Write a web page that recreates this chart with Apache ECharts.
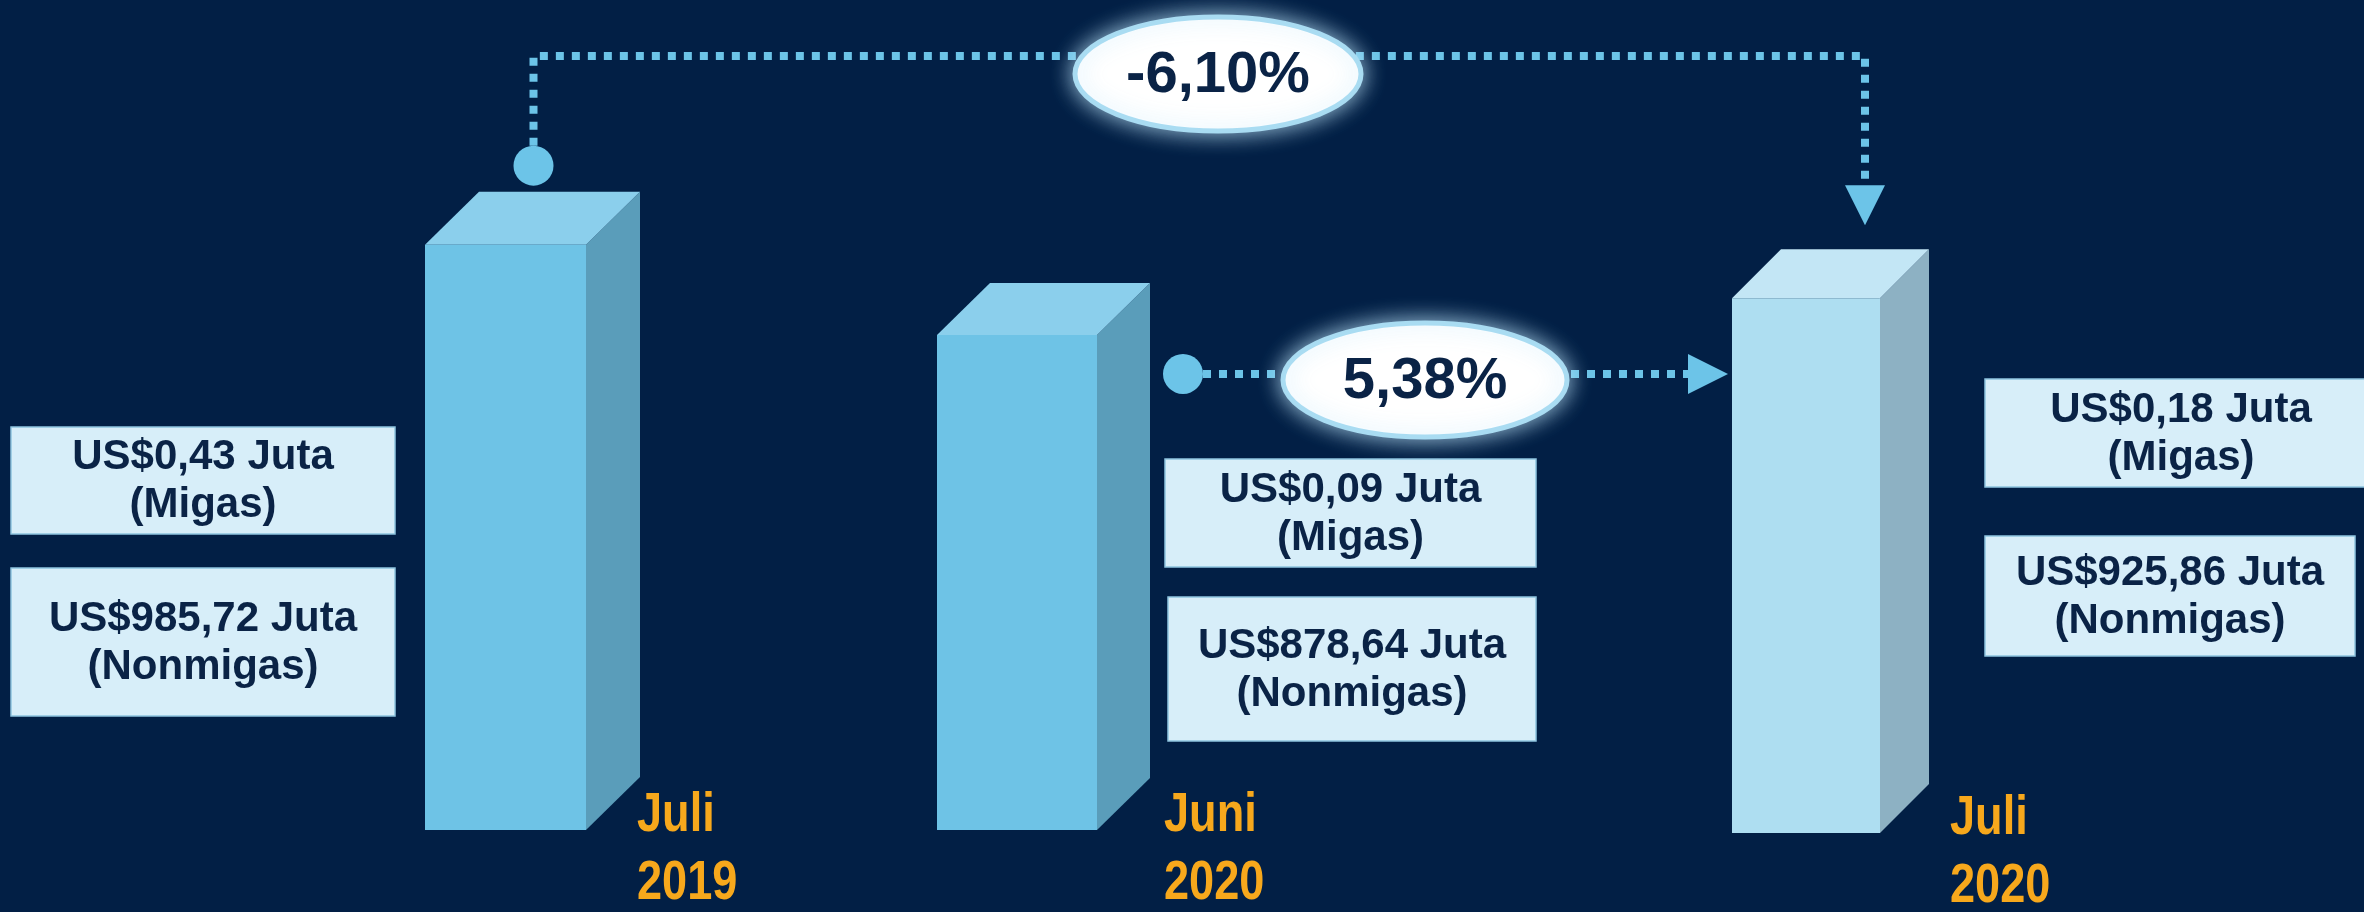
<!DOCTYPE html>
<html>
<head>
<meta charset="utf-8">
<script src="https://cdn.jsdelivr.net/npm/echarts@6/dist/echarts.min.js"></script>
<style>
html,body{margin:0;padding:0;background:#021F45;}
#c{width:2364px;height:912px;}
</style>
</head>
<body>
<div id="c"></div>
<script>
// ---------------- DATA ----------------
const categories = ['Juli\n2019', 'Juni\n2020', 'Juli\n2020'];
const migas = [0.43, 0.09, 0.18];          // US$ Juta
const nonmigas = [985.72, 878.64, 925.86]; // US$ Juta
const changes = [-6.10, 5.38];             // % : Juli 2020 vs Juli 2019, Juli 2020 vs Juni 2020

// ---------------- LAYOUT / STYLE ----------------
const BG = '#021F45';
const FONT = "'Liberation Sans', Arial, sans-serif";
const NAVY = '#0A2346';
const ORANGE = '#F7A81C';
const LINK = '#6CC4E8';
const Y_MIN = 290, Y_MAX = 1000;
const gridLayout = [
  {left: 425, width: 161, top: 233, bottom: 82},
  {left: 937, width: 160, top: 233, bottom: 82},
  {left: 1732, width: 148, top: 236, bottom: 79}
];
const depth = [[54, 53], [53, 52], [49, 49]];
const barColors = [
  {front: '#6EC3E6', top: '#8BCFEC', side: '#5A9DBA'},
  {front: '#6EC3E6', top: '#8BCFEC', side: '#5A9DBA'},
  {front: '#AEDEF1', top: '#C3E6F5', side: '#8DB1C3'}
];
const labelOffset = [-3, 14, 21];
const boxLayout = [
  {m: [11, 427, 384, 107], n: [11, 568, 384, 148]},
  {m: [1165, 459, 371, 108], n: [1168, 597, 368, 144]},
  {m: [1985, 379, 392, 108], n: [1985, 536, 370, 120]}
];
const ellipseLayout = [
  {cx: 1218, cy: 74, rx: 143, ry: 57},
  {cx: 1425, cy: 380, rx: 142, ry: 57}
];
const topLineY = 56;

const totals = migas.map((v, i) => v + nonmigas[i]);
const fmt = v => v.toFixed(2).replace('.', ',');

const chart = echarts.init(document.getElementById('c'), null, {renderer: 'canvas'});

function renderBar(params, api) {
  const i = params.seriesIndex;
  const topP = api.coord([api.value(0), api.value(1)]);
  const baseP = api.coord([api.value(0), Y_MIN]);
  const w = api.size([1, 0])[0];
  const x0 = topP[0] - w / 2, x1 = topP[0] + w / 2;
  const yt = topP[1], yb = baseP[1];
  const dx = depth[i][0], dy = depth[i][1];
  const c = barColors[i];
  const lx = x1 + dx + labelOffset[i];
  return {
    type: 'group',
    children: [
      {type: 'polygon', shape: {points: [[x1, yt], [x1 + dx, yt - dy], [x1 + dx, yb - dy], [x1, yb]]}, style: {fill: c.side}},
      {type: 'polygon', shape: {points: [[x0, yt], [x0 + dx, yt - dy], [x1 + dx, yt - dy], [x1, yt]]}, style: {fill: c.top}},
      {type: 'rect', shape: {x: x0, y: yt, width: w, height: yb - yt}, style: {fill: c.front}},
      {type: 'text', x: lx, y: yb - 48, scaleX: 0.82,
        style: {text: categories[i], x: 0, y: 0, fill: ORANGE, fontSize: 55, fontWeight: 'bold',
          fontFamily: FONT, lineHeight: 68, align: 'left', verticalAlign: 'top'}}
    ]
  };
}

const option = {
  backgroundColor: BG,
  animation: false,
  grid: gridLayout.map(g => Object.assign({containLabel: false}, g)),
  xAxis: gridLayout.map((g, i) => ({type: 'category', gridIndex: i, data: [categories[i]], show: false, boundaryGap: true})),
  yAxis: gridLayout.map((g, i) => ({type: 'value', gridIndex: i, min: Y_MIN, max: Y_MAX, show: false})),
  series: categories.map((c, i) => ({
    type: 'custom', xAxisIndex: i, yAxisIndex: i, clip: false,
    renderItem: renderBar, data: [[c, totals[i]]], z: 2
  }))
};
chart.setOption(option);

// ---------------- ANNOTATIONS ----------------
const P = categories.map((c, i) => chart.convertToPixel({gridIndex: i}, [c, totals[i]]));
const G = [];
const dotted = {stroke: LINK, lineWidth: 8, lineDash: [8, 8], lineCap: 'butt', fill: null};

// connector 1 : Juli 2019 -> Juli 2020
const c1x = P[0][0] + depth[0][0] / 2 + 1;
const c1y = P[0][1] - depth[0][1] - 26;
const a1x = P[2][0] + gridLayout[2].width / 2 - 15;
const a1tip = P[2][1] - depth[2][1] - 24;
G.push({type: 'polyline', z: 10, shape: {points: [[c1x, c1y - 20], [c1x, topLineY], [a1x, topLineY], [a1x, a1tip - 40]]}, style: dotted});
G.push({type: 'circle', z: 11, shape: {cx: c1x, cy: c1y, r: 20}, style: {fill: LINK}});
G.push({type: 'polygon', z: 11, shape: {points: [[a1x - 20, a1tip - 40], [a1x + 20, a1tip - 40], [a1x, a1tip]]}, style: {fill: LINK}});

// connector 2 : Juni 2020 -> Juli 2020
const c2x = P[1][0] + gridLayout[1].width / 2 + depth[1][0] + 33;
const c2y = P[1][1] + 39;
const a2tip = P[2][0] - gridLayout[2].width / 2 - 4;
G.push({type: 'polyline', z: 10, shape: {points: [[c2x + 20, c2y], [a2tip - 39, c2y]]}, style: dotted});
G.push({type: 'circle', z: 11, shape: {cx: c2x, cy: c2y, r: 20}, style: {fill: LINK}});
G.push({type: 'polygon', z: 11, shape: {points: [[a2tip - 40, c2y - 20], [a2tip - 40, c2y + 20], [a2tip, c2y]]}, style: {fill: LINK}});

// percentage ellipses
changes.forEach((v, k) => {
  const e = ellipseLayout[k];
  G.push({type: 'ellipse', z: 12, shape: {cx: e.cx, cy: e.cy, rx: e.rx, ry: e.ry},
    style: {fill: '#FFFFFF', stroke: '#A9DCF2', lineWidth: 5, shadowBlur: 22, shadowColor: 'rgba(190,230,250,0.85)'}});
  G.push({type: 'text', z: 13, x: e.cx, y: e.cy + 2,
    style: {text: fmt(v) + '%', fill: NAVY, fontSize: 58, fontWeight: 'bold', fontFamily: FONT, align: 'center', verticalAlign: 'middle'}});
});

// value boxes
categories.forEach((c, i) => {
  const b = boxLayout[i];
  [['m', 'US$' + fmt(migas[i]) + ' Juta\n(Migas)'], ['n', 'US$' + fmt(nonmigas[i]) + ' Juta\n(Nonmigas)']].forEach(([key, txt]) => {
    const r = b[key];
    G.push({type: 'rect', z: 5, shape: {x: r[0], y: r[1], width: r[2], height: r[3]},
      style: {fill: '#D7EEF9', stroke: '#8EC5DF', lineWidth: 1.5}});
    G.push({type: 'text', z: 6, x: r[0] + r[2] / 2, y: r[1] + r[3] / 2 + 1,
      style: {text: txt, fill: NAVY, fontSize: 42, fontWeight: 'bold', fontFamily: FONT, lineHeight: 48, align: 'center', verticalAlign: 'middle'}});
  });
});

chart.setOption({graphic: G});
</script>
</body>
</html>
